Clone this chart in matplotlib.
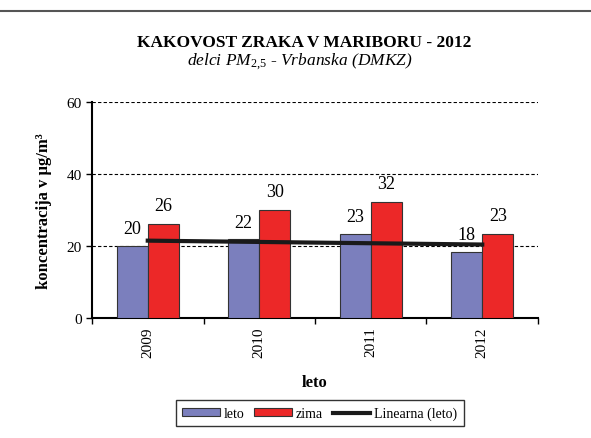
import numpy as np
import matplotlib.pyplot as plt
from matplotlib.lines import Line2D

leta = ["2009", "2010", "2011", "2012"]
leto = [20.1, 21.9, 23.4, 18.4]
zima = [26.0, 30.0, 32.2, 23.3]

plt.rcParams['font.family'] = ['Liberation Serif', 'DejaVu Serif']
plt.rcParams['mathtext.fontset'] = 'custom'
plt.rcParams['mathtext.rm'] = 'Liberation Serif'
plt.rcParams['mathtext.it'] = 'Liberation Serif:italic'
plt.rcParams['mathtext.bf'] = 'Liberation Serif:bold'

fig = plt.figure(figsize=(5.91, 4.39), dpi=100)
ax = fig.add_axes([0.1557, 0.2733, 0.7546, 0.4921])

x = np.arange(len(leta))
w = 0.28
b1 = ax.bar(x - w / 2, leto, w, color='#7b7fbd', edgecolor='#333333', linewidth=0.8, label='leto', zorder=3)
b2 = ax.bar(x + w / 2, zima, w, color='#ec2828', edgecolor='#333333', linewidth=0.8, label='zima', zorder=3)

# trend line (linear fit of leto)
k, n = np.polyfit(x, leto, 1)
ax.plot(x, k * x + n, color='#1a1a1a', linewidth=3, zorder=4)

for xi, v in zip(x, leto):
    ax.text(xi - w / 2, v + 2.3, f"{round(v)}", ha='center', va='bottom', fontsize=13, zorder=5)
for xi, v in zip(x, zima):
    ax.text(xi + w / 2, v + 2.8, f"{round(v)}", ha='center', va='bottom', fontsize=13, zorder=5)

ax.set_ylim(0, 60)
ax.set_xlim(-0.5, 3.5)
ax.set_yticks([0, 20, 40, 60])
ax.tick_params(axis='y', labelsize=11, direction='out', length=4, width=1)
ax.yaxis.grid(True, color='black', linestyle=(0, (3, 2)), linewidth=0.8)
ax.set_axisbelow(True)

ax.set_xticks(np.arange(-0.5, 4, 1))
ax.set_xticklabels([])
ax.set_xticks(x, minor=True)
ax.set_xticklabels(leta, minor=True, rotation=90, fontsize=11)
ax.tick_params(axis='x', which='major', direction='out', length=4, width=1)
ax.tick_params(axis='x', which='minor', length=0, pad=6)

ax.spines['top'].set_visible(False)
ax.spines['right'].set_visible(False)
ax.spines['left'].set_linewidth(1.5)
ax.spines['bottom'].set_linewidth(1.5)

ax.set_ylabel("koncentracija v μg/m³", fontsize=12, fontweight='bold', labelpad=10)
ax.set_xlabel("leto", fontsize=12, fontweight='bold', labelpad=12)

fig.text(0.515, 0.893, "KAKOVOST ZRAKA V MARIBORU - 2012", ha='center', fontsize=12.5, fontweight='bold')
fig.text(0.508, 0.852, "delci $\\mathit{PM}_{\\mathit{2{,}5}}$ - Vrbanska (DMKZ)", ha='center', fontsize=12.5, style='italic')

# top separator line
fig.add_artist(Line2D([0, 1], [0.973, 0.973], color='#555555', linewidth=1.5, transform=fig.transFigure))

handles = [b1, b2, Line2D([], [], color='#1a1a1a', linewidth=3)]
leg = fig.legend(handles, ['leto', 'zima', 'Linearna (leto)'], loc='center', bbox_to_anchor=(0.541, 0.056),
                 ncol=3, frameon=True, fancybox=False, edgecolor='black', fontsize=10,
                 handlelength=2.7, handleheight=0.5, columnspacing=0.7, handletextpad=0.3,
                 borderpad=0.45)
leg.get_frame().set_linewidth(1)

fig.savefig("out.png", dpi=100)
